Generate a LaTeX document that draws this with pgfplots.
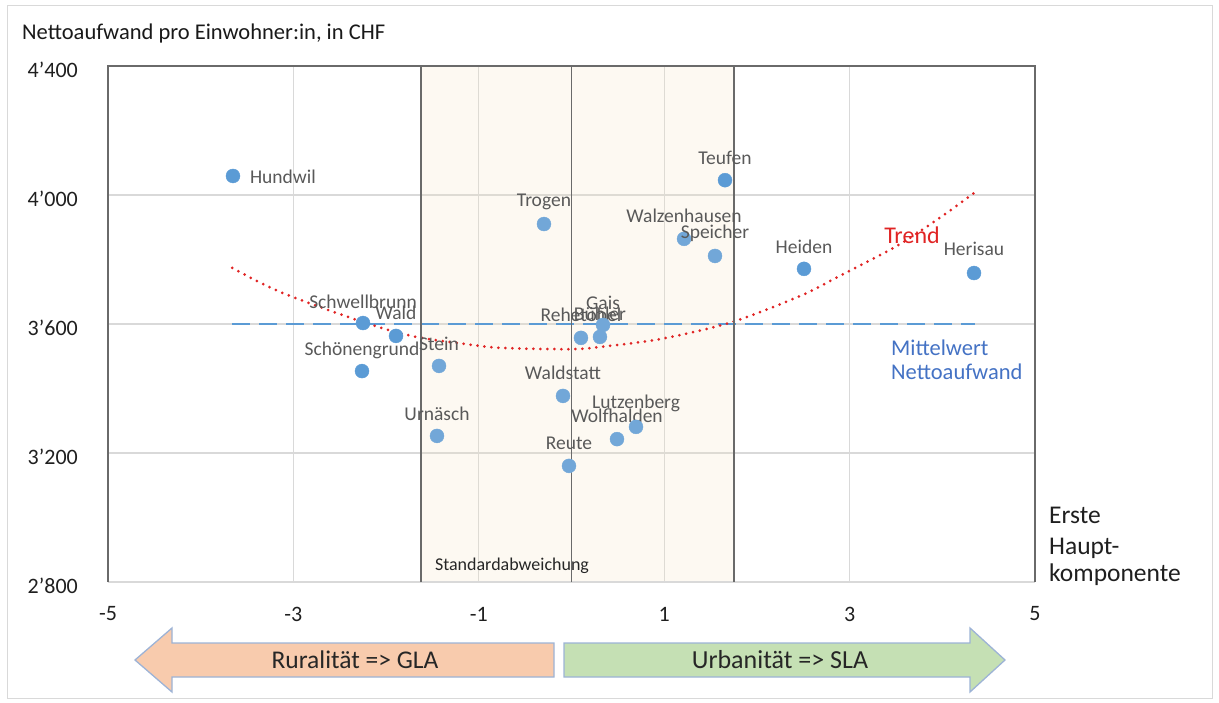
\documentclass[border=0pt]{standalone}
\usepackage{pgfplots}
\pgfplotsset{compat=1.18}
\usepackage{pgfplotstable}
\usepackage{fontspec}
\setmainfont{Carlito}
\definecolor{ptblue}{HTML}{5B9BD5}
\definecolor{inblue}{HTML}{72A7D8}
\definecolor{gridgray}{HTML}{D9D9D9}
\definecolor{framegray}{HTML}{6A6A6A}
\definecolor{lblgray}{HTML}{595959}
\definecolor{trendred}{HTML}{E02424}
\definecolor{meanblue}{HTML}{4472C4}
\definecolor{boxfill}{HTML}{F5E3C0}
\definecolor{ruralfill}{HTML}{F8CBAD}
\definecolor{urbanfill}{HTML}{C5E0B4}
\definecolor{arrowedge}{HTML}{9DB3D6}

\pgfplotstableread{
x y dx dy name
-3.652 4059 50 -1 Hundwil
1.656 4046 0 22 Teufen
2.508 3771 0 22 Heiden
4.342 3758 0 24 Herisau
-2.249 3603 0 21 Schwellbrunn
-1.893 3563 0 23 Wald
-2.260 3454 0 21 Schönengrund
}\pointsout

\pgfplotstableread{
x y dx dy name
-0.297 3910 0 22 Trogen
1.214 3864 0 23 Walzenhausen
1.548 3811 0 23 Speicher
-1.429 3470 0 22 Stein
0.102 3557 0 23 Rehetobel
0.307 3560 0 23 Bühler
0.340 3597 0 22 Gais
-0.092 3377 0 23 Waldstatt
-1.451 3253 0 22 Urnäsch
0.491 3243 0 23 Wolfhalden
0.696 3281 0 23 Lutzenberg
-0.027 3160 0 23 Reute
}\pointsin

\pgfplotstableread{
x y
-3.66 3774
-3.14 3699
-2.25 3606
-1.71 3562
-1.20 3540
-0.77 3526
0.00 3522
0.31 3529
0.95 3553
1.71 3604
2.46 3686
2.90 3750
3.54 3847
4.05 3945
4.35 4008
}\trend

\pgfplotsset{
  ptlabels/.style={
    point meta=explicit symbolic,
    visualization depends on={\thisrow{dx} \as \ldx},
    visualization depends on={\thisrow{dy} \as \ldy},
    nodes near coords,
    every node near coord/.append style={anchor=center, xshift=\ldx pt, yshift=\ldy pt,
      font=\fontsize{19.5}{22}\selectfont, text=lblgray, inner sep=0pt},
  }
}

\begin{document}
\begin{tikzpicture}
\path[use as bounding box] (-108pt,-120pt) rectangle (1111pt,582pt);
\draw[gridgray, line width=1pt] (-100pt,-116pt) rectangle (1104pt,576pt);
\begin{axis}[
  at={(0pt,0pt)}, anchor=south west,
  scale only axis, width=927pt, height=516pt,
  xmin=-5, xmax=5, ymin=2800, ymax=4400,
  xtick={-5,-3,-1,1,3,5}, xticklabels={-5,-3,-1,1,3,5},
  ytick={2800,3200,3600,4000,4400},
  yticklabels={2’800,3’200,3’600,4’000,4’400},
  major tick length=0pt,
  grid=major, major grid style={gridgray, line width=1.3pt},
  axis line style={draw=none},
  clip=false,
  tick label style={font=\fontsize{22}{26}\selectfont, text=black!88, inner sep=0pt},
  xticklabel style={anchor=center, yshift=-32pt},
  yticklabel style={anchor=east, xshift=-30pt, yshift=-4pt},
]
\fill[boxfill, fill opacity=0.2] (axis cs:-1.62,2800) rectangle (axis cs:1.75,4400);
\addplot[ptblue, line width=2.5pt, dash pattern=on 18pt off 9pt] coordinates {(-3.66,3600) (4.35,3600)};
\addplot[trendred, line width=3pt, dash pattern=on 0pt off 7pt, line cap=round, smooth] table[x=x,y=y] {\trend};
\addplot[only marks, mark=*, mark size=7pt, mark options={fill=ptblue, draw=ptblue}, ptlabels]
  table[x=x, y=y, meta=name] {\pointsout};
\addplot[only marks, mark=*, mark size=7pt, mark options={fill=inblue, draw=inblue}, ptlabels]
  table[x=x, y=y, meta=name] {\pointsin};
\draw[gridgray, line width=1.5pt] (rel axis cs:0,0) -- (rel axis cs:1,0);
\draw[framegray, line width=2pt] (axis cs:-1.62,2800) |- (axis cs:1.75,4400) -- (axis cs:1.75,2800);
\draw[framegray, line width=1.6pt] (axis cs:0,2800) -- (axis cs:0,4400);
\draw[framegray, line width=2pt] (rel axis cs:0,0) |- (rel axis cs:1,1) -- (rel axis cs:1,0);
\end{axis}
% texts
\node[anchor=base west, inner sep=0pt, font=\fontsize{22.5}{26}\selectfont, text=black!90] at (-86pt,542pt) {Nettoaufwand pro Einwohner:in, in CHF};
\node[inner sep=0pt, font=\fontsize{18}{20}\selectfont, text=black!85] at (404pt,16pt) {Standardabweichung};
\node[inner sep=0pt, font=\fontsize{24}{26}\selectfont, text=trendred] at (804pt,347pt) {Trend};
\node[anchor=base west, inner sep=0pt, font=\fontsize{22.5}{26}\selectfont, text=meanblue] at (783pt,226pt) {Mittelwert};
\node[anchor=base west, inner sep=0pt, font=\fontsize{22.5}{26}\selectfont, text=meanblue] at (783pt,202pt) {Nettoaufwand};
\node[anchor=base west, inner sep=0pt, font=\fontsize{25.5}{28}\selectfont, text=black!88] at (941pt,59pt) {Erste};
\node[anchor=base west, inner sep=0pt, font=\fontsize{25.5}{28}\selectfont, text=black!88] at (941pt,28pt) {Haupt-};
\node[anchor=base west, inner sep=0pt, font=\fontsize{25.5}{28}\selectfont, text=black!88] at (941pt,1pt) {komponente};
% arrows
\draw[fill=ruralfill, draw=arrowedge, line width=1.3pt, line join=miter]
  (27pt,-78pt) -- (64pt,-46pt) -- (64pt,-61pt) -- (446pt,-61pt) -- (446pt,-95pt) -- (64pt,-95pt) -- (64pt,-110pt) -- cycle;
\draw[fill=urbanfill, draw=arrowedge, line width=1.3pt, line join=miter]
  (456pt,-61pt) -- (862pt,-61pt) -- (862pt,-46pt) -- (897pt,-78pt) -- (862pt,-110pt) -- (862pt,-95pt) -- (456pt,-95pt) -- cycle;
\node[inner sep=0pt, font=\fontsize{25.5}{28}\selectfont, text=black!85] at (247pt,-78pt) {Ruralität => GLA};
\node[inner sep=0pt, font=\fontsize{26}{28}\selectfont, text=black!85] at (672pt,-78pt) {Urbanität => SLA};
\end{tikzpicture}
\end{document}
